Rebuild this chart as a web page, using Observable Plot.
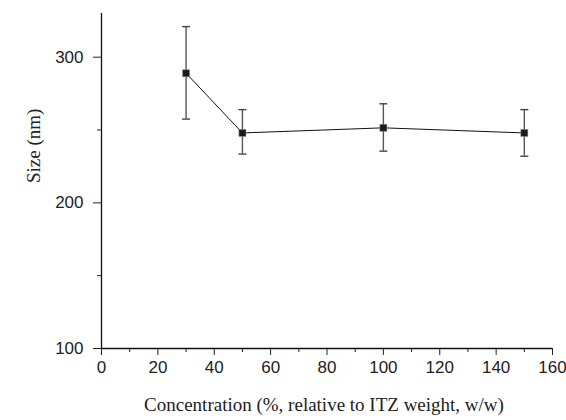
<!DOCTYPE html>
<html>
<head>
<meta charset="utf-8">
<script src="https://cdn.jsdelivr.net/npm/d3@7"></script>
<script src="https://cdn.jsdelivr.net/npm/@observablehq/plot@0.6"></script>
<style>
  html, body { margin: 0; padding: 0; background: #fff; }
  #chart { width: 566px; height: 420px; }
</style>
</head>
<body>
<div id="chart"></div>
<script>
// Data
const concentration = [30, 50, 100, 150];
const sizeMean = [289, 248, 251.5, 248];
const sizeLow = [257.5, 233.5, 235.5, 232];
const sizeHigh = [321, 264, 268, 264];

const xMajorTicks = [0, 20, 40, 60, 80, 100, 120, 140, 160];
const xMinorTicks = [10, 30, 50, 70, 90, 110, 130, 150];
const yMajorTicks = [100, 200, 300];
const yMinorTicks = [150, 250];

const xLabel = "Concentration (%, relative to ITZ weight, w/w)";
const yLabel = "Size (nm)";

const data = concentration.map((c, i) => ({
  x: c, y: sizeMean[i], lo: sizeLow[i], hi: sizeHigh[i]
}));

const capSymbol = {
  draw(context, size) {
    const w = Math.sqrt(size / Math.PI);
    context.moveTo(-w, 0);
    context.lineTo(w, 0);
  }
};

const sans = "'Liberation Sans', Arial, sans-serif";
const serif = "'Liberation Serif', 'Times New Roman', serif";

const chart = Plot.plot({
  width: 566,
  height: 420,
  marginLeft: 101,
  marginRight: 14,
  marginTop: 13,
  marginBottom: 72,
  style: { fontFamily: sans, fontSize: "17px", color: "#222", background: "#fff" },
  x: { domain: [0, 160] },
  y: { domain: [100, 330] },
  marks: [
    Plot.axisX({ ticks: xMajorTicks, tickSize: 7, tickPadding: 5, tickFormat: d => d, label: null, fontSize: 17, fill: "#222" }),
    Plot.axisX({ ticks: xMinorTicks, tickSize: 4, tickFormat: () => "", label: null }),
    Plot.axisY({ ticks: yMajorTicks, tickSize: 8, tickPadding: 10, tickFormat: d => d, label: null, fontSize: 17, fill: "#222" }),
    Plot.axisY({ ticks: yMinorTicks, tickSize: 4, tickFormat: () => "", label: null }),
    Plot.ruleY([100], { stroke: "#111", strokeWidth: 1.3 }),
    Plot.ruleX([0], { stroke: "#111", strokeWidth: 1.3 }),
    Plot.ruleX(data, { x: "x", y1: "lo", y2: "hi", stroke: "#555", strokeWidth: 1.4 }),
    Plot.dot(data, { x: "x", y: "lo", symbol: capSymbol, r: 4, stroke: "#444", strokeWidth: 1.4, fill: "none" }),
    Plot.dot(data, { x: "x", y: "hi", symbol: capSymbol, r: 4, stroke: "#444", strokeWidth: 1.4, fill: "none" }),
    Plot.line(data, { x: "x", y: "y", stroke: "#111", strokeWidth: 1 }),
    Plot.dot(data, { x: "x", y: "y", symbol: "square", r: 4, fill: "#1a1a1a", stroke: "#999", strokeWidth: 0.5 }),
    Plot.text([xLabel], { frameAnchor: "bottom", dx: -3, dy: 62, fontFamily: serif, fontSize: 19, fill: "#222" }),
    Plot.text([yLabel], { frameAnchor: "left", dx: -68, dy: 2, rotate: -90, fontFamily: serif, fontSize: 19, fill: "#222" })
  ]
});

document.getElementById("chart").appendChild(chart);
</script>
</body>
</html>
